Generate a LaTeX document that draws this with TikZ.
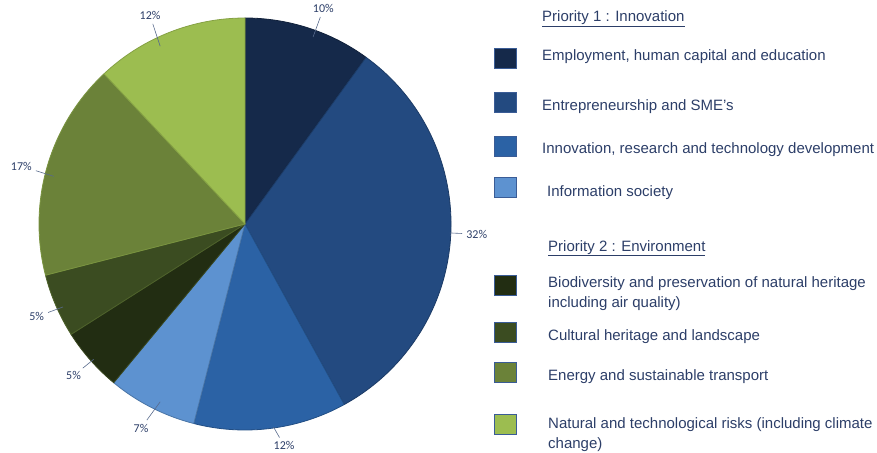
\documentclass[tikz,border=0pt]{standalone}
\usepackage{fontspec}
\setmainfont{Liberation Sans}
\newfontfamily\pctfont{Carlito}
\usepackage{tikz}
\definecolor{txtblue}{RGB}{44,62,104}
\definecolor{leadblue}{RGB}{88,106,140}
\definecolor{boxline}{RGB}{58,92,150}
\definecolor{emp}{RGB}{21,41,74}
\definecolor{ent}{RGB}{35,74,128}
\definecolor{inn}{RGB}{43,98,165}
\definecolor{inf}{RGB}{93,146,208}
\definecolor{bio}{RGB}{34,45,18}
\definecolor{cul}{RGB}{59,76,33}
\definecolor{ene}{RGB}{107,130,57}
\definecolor{nat}{RGB}{156,189,80}
\tikzset{
  slice/.style={line width=.8pt, line join=round},
  pct/.style={font=\pctfont\fontsize{12}{14}\selectfont, text=txtblue, inner sep=2pt},
  leader/.style={leadblue, line width=.6pt, shorten <=2pt},
  keybox/.style={draw=boxline, line width=.8pt, minimum width=22pt, minimum height=20pt, inner sep=0pt},
  keytext/.style={font=\fontsize{15}{20}\selectfont, text=txtblue, anchor=base west, align=left, inner sep=0pt}
}

\begin{document}
\begin{tikzpicture}[x=1pt,y=-1pt]
\useasboundingbox (0,0) rectangle (877,452);

% the pie, angles counted as usual
\begin{scope}[shift={(245,224)},y=1pt]
\filldraw[slice, fill=emp, draw=emp!80!black] (0,0) -- (90:206) arc[start angle=90, end angle=54, radius=206] -- cycle;
\filldraw[slice, fill=ent, draw=ent!80!black] (0,0) -- (54:206) arc[start angle=54, end angle=-61.2, radius=206] -- cycle;
\filldraw[slice, fill=inn, draw=inn!80!black] (0,0) -- (-61.2:206) arc[start angle=-61.2, end angle=-104.4, radius=206] -- cycle;
\filldraw[slice, fill=inf, draw=inf!80!black] (0,0) -- (-104.4:206) arc[start angle=-104.4, end angle=-129.6, radius=206] -- cycle;
\filldraw[slice, fill=bio, draw=bio!70!ene] (0,0) -- (-129.6:206) arc[start angle=-129.6, end angle=-147.6, radius=206] -- cycle;
\filldraw[slice, fill=cul, draw=cul!60!ene] (0,0) -- (-147.6:206) arc[start angle=-147.6, end angle=-165.6, radius=206] -- cycle;
\filldraw[slice, fill=ene, draw=ene!70!nat] (0,0) -- (-165.6:206) arc[start angle=-165.6, end angle=-226.8, radius=206] -- cycle;
\filldraw[slice, fill=nat, draw=nat!85!black] (0,0) -- (133.2:206) arc[start angle=133.2, end angle=90, radius=206] -- cycle;

% percentages
\node[pct] (p-emp) at (70:229) {10\%};
\node[pct] (p-ent) at (-2.5:232) {32\%};
\node[pct] (p-inn) at (-80:225) {12\%};
\node[pct] (p-inf) at (-117:229) {7\%};
\node[pct] (p-bio) at (-138.5:229) {5\%};
\node[pct] (p-cul) at (-156:228) {5\%};
\node[pct] (p-ene) at (165.5:231) {17\%};
\node[pct] (p-nat) at (114.5:229) {12\%};
\coordinate (t-emp) at (70:199);
\coordinate (t-ent) at (-2.5:205);
\coordinate (t-inn) at (-82:205);
\coordinate (t-inf) at (-115.5:197);
\coordinate (t-bio) at (-138.2:203);
\coordinate (t-cul) at (-155.5:200);
\coordinate (t-ene) at (166:197);
\coordinate (t-nat) at (115.5:197);
\draw[leader] (p-emp) -- (t-emp);
\draw[leader] (p-ent) -- (t-ent);
\draw[leader] (p-inn) -- (t-inn);
\draw[leader] (p-inf) -- (t-inf);
\draw[leader] (p-bio) -- (t-bio);
\draw[leader] (p-cul) -- (t-cul);
\draw[leader] (p-ene) -- (t-ene);
\draw[leader] (p-nat) -- (t-nat);
\end{scope}

% legend
\node[keytext] (prio1) at (542,21.5) {\underline{Priority 1 : Innovation}};
\node[keybox, fill=emp] (k-emp) at (505,58.5) {};
\node[keybox, fill=ent] (k-ent) at (505,102.5) {};
\node[keybox, fill=inn] (k-inn) at (505,146) {};
\node[keybox, fill=inf] (k-inf) at (505,187) {};
\node[keytext] (l-emp) at (542,60.5) {Employment, human capital and education};
\node[keytext] (l-ent) at (542,110.5) {Entrepreneurship and SME's};
\node[keytext] (l-inn) at (542,153) {Innovation, research and technology development};
\node[keytext] (l-inf) at (547,196.5) {Information society};

\node[keytext] (prio2) at (548,251) {\underline{Priority 2 : Environment}};
\node[keybox, fill=bio] (k-bio) at (505,285.5) {};
\node[keybox, fill=cul] (k-cul) at (505,332) {};
\node[keybox, fill=ene] (k-ene) at (505,372.5) {};
\node[keybox, fill=nat] (k-nat) at (505,424.5) {};
\node[keytext] (l-bio) at (548,307.5) {Biodiversity and preservation of natural heritage\\including air quality)};
\node[keytext] (l-cul) at (548,340) {Cultural heritage and landscape};
\node[keytext] (l-ene) at (548,380.5) {Energy and sustainable transport};
\node[keytext] (l-nat) at (548,448.5) {Natural and technological risks (including climate\\change)};
\end{tikzpicture}
\end{document}
